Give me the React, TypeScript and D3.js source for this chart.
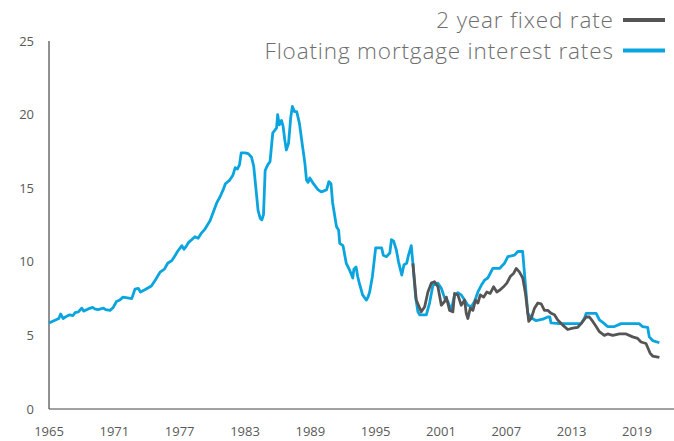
import React from "react";
import * as d3 from "d3";

const floatingRate: [number, number][] = [
  [1965.0, 5.85], [1965.3, 5.95], [1965.6, 6.05], [1965.9, 6.15], [1966.07, 6.45], [1966.3, 6.15],
  [1966.5, 6.25], [1966.9, 6.4], [1967.2, 6.35], [1967.4, 6.55], [1967.7, 6.6], [1968.0, 6.85],
  [1968.2, 6.65], [1968.6, 6.8], [1969.0, 6.9], [1969.2, 6.8], [1969.5, 6.75], [1970.0, 6.85],
  [1970.2, 6.75], [1970.6, 6.7], [1970.9, 6.9], [1971.2, 7.3], [1971.5, 7.4], [1971.8, 7.6],
  [1972.2, 7.55], [1972.6, 7.5], [1972.9, 8.15], [1973.2, 8.2], [1973.4, 7.95], [1973.8, 8.1],
  [1974.4, 8.35], [1974.8, 8.8], [1975.2, 9.3], [1975.6, 9.5], [1975.9, 9.9], [1976.3, 10.1],
  [1976.6, 10.45], [1976.8, 10.7], [1977.2, 11.1], [1977.4, 10.85], [1977.6, 11.05], [1977.8, 11.3],
  [1978.1, 11.5], [1978.4, 11.7], [1978.7, 11.6], [1979.0, 11.95], [1979.3, 12.2], [1979.8, 12.8],
  [1980.05, 13.3], [1980.4, 14.0], [1980.7, 14.4], [1981.0, 14.9], [1981.2, 15.3], [1981.6, 15.55],
  [1981.9, 15.9], [1982.1, 16.4], [1982.3, 16.3], [1982.5, 16.6], [1982.65, 17.4], [1983.0, 17.4],
  [1983.3, 17.35], [1983.6, 17.1], [1983.8, 16.5], [1984.0, 15.0], [1984.2, 13.5], [1984.4, 12.95],
  [1984.55, 12.85], [1984.7, 13.2], [1984.85, 16.2], [1985.1, 16.6], [1985.3, 16.8], [1985.55, 18.75],
  [1985.8, 19.0], [1985.9, 19.1], [1986.0, 20.0], [1986.15, 19.3], [1986.35, 19.6], [1986.5, 19.2],
  [1986.65, 18.3], [1986.8, 17.6], [1987.0, 18.05], [1987.2, 19.8], [1987.35, 20.55], [1987.55, 20.2],
  [1987.75, 20.2], [1988.0, 19.4], [1988.2, 18.3], [1988.5, 16.7], [1988.65, 15.55], [1988.8, 15.4],
  [1988.95, 15.7], [1989.2, 15.4], [1989.7, 14.9], [1990.0, 14.75], [1990.2, 14.8], [1990.5, 14.9],
  [1990.7, 15.45], [1990.9, 15.3], [1991.05, 14.0], [1991.4, 12.4], [1991.6, 12.15], [1991.7, 11.25],
  [1992.0, 11.1], [1992.3, 9.9], [1992.6, 9.45], [1992.9, 8.9], [1993.0, 9.5], [1993.2, 9.65],
  [1993.35, 9.0], [1993.5, 8.55], [1993.8, 7.75], [1994.15, 7.4], [1994.3, 7.6], [1994.45, 7.95],
  [1994.7, 9.0], [1995.0, 10.95], [1995.55, 10.95], [1995.7, 10.45], [1996.0, 10.35], [1996.3, 10.6],
  [1996.45, 11.5], [1996.65, 11.4], [1996.9, 10.8], [1997.1, 10.0], [1997.4, 9.1], [1997.6, 9.8],
  [1997.85, 9.9], [1998.0, 10.4], [1998.27, 11.1], [1998.42, 9.9], [1998.67, 7.6], [1998.88, 6.6],
  [1999.04, 6.4], [1999.65, 6.4], [1999.95, 7.2], [2000.26, 8.4], [2000.72, 8.55], [2001.03, 8.2],
  [2001.33, 7.55], [2001.63, 7.3], [2001.94, 6.7], [2002.25, 7.75], [2002.55, 7.9], [2002.86, 7.75],
  [2003.17, 7.4], [2003.47, 7.05], [2003.78, 6.95], [2004.08, 7.3], [2004.39, 7.95], [2004.7, 8.4],
  [2005.0, 8.75], [2005.3, 8.9], [2005.76, 9.55], [2006.38, 9.55], [2006.83, 9.9], [2007.14, 10.35],
  [2007.75, 10.45], [2008.06, 10.7], [2008.5, 10.7], [2008.67, 9.2], [2008.97, 6.5], [2009.28, 6.2],
  [2009.74, 6.0], [2010.35, 6.1], [2010.8, 6.25], [2011.0, 6.25], [2011.1, 5.85], [2011.88, 5.8],
  [2012.8, 5.8], [2013.87, 5.8], [2014.2, 6.2], [2014.33, 6.5], [2015.25, 6.5], [2015.55, 6.05],
  [2016.0, 5.8], [2016.3, 5.6], [2016.93, 5.6], [2017.39, 5.75], [2017.54, 5.8], [2019.2, 5.8],
  [2019.5, 5.6], [2019.98, 5.55], [2020.13, 4.9], [2020.44, 4.65], [2021.06, 4.5],
];

const fixedRate: [number, number][] = [
  [1998.42, 9.9], [1998.73, 7.4], [1999.19, 6.6], [1999.5, 6.95], [1999.8, 7.95], [2000.11, 8.55],
  [2000.41, 8.65], [2000.72, 8.3], [2001.03, 7.05], [2001.33, 7.3], [2001.49, 7.6], [2001.79, 6.7],
  [2002.09, 6.6], [2002.25, 7.85], [2002.55, 7.75], [2002.86, 7.05], [2003.17, 7.4], [2003.32, 6.5],
  [2003.47, 6.15], [2003.69, 6.85], [2003.93, 6.7], [2004.17, 7.4], [2004.39, 7.2], [2004.61, 7.75],
  [2004.91, 7.6], [2005.21, 7.95], [2005.52, 7.85], [2005.83, 8.3], [2006.13, 7.95], [2006.44, 8.1],
  [2006.74, 8.3], [2007.05, 8.55], [2007.36, 9.0], [2007.66, 9.2], [2007.91, 9.55], [2008.21, 9.3],
  [2008.51, 8.9], [2008.76, 7.85], [2009.06, 5.95], [2009.28, 6.15], [2009.59, 6.85], [2009.89, 7.2],
  [2010.2, 7.15], [2010.5, 6.7], [2010.81, 6.7], [2011.12, 6.5], [2011.42, 6.4], [2011.72, 6.05],
  [2012.18, 5.7], [2012.64, 5.4], [2013.1, 5.5], [2013.56, 5.55], [2013.87, 5.8], [2014.33, 6.25],
  [2014.63, 6.25], [2014.94, 5.95], [2015.25, 5.6], [2015.55, 5.25], [2016.0, 5.0], [2016.31, 5.1],
  [2016.77, 5.0], [2017.39, 5.1], [2018.0, 5.1], [2018.6, 4.9], [2019.06, 4.8], [2019.37, 4.55],
  [2019.83, 4.45], [2020.2, 3.8], [2020.44, 3.6], [2021.06, 3.5],
];

const xTicks = [1965, 1971, 1977, 1983, 1989, 1995, 2001, 2007, 2013, 2019];
const yTicks = [0, 5, 10, 15, 20, 25];
const legendLabels = ["2 year fixed rate", "Floating mortgage interest rates"];
const seriesColors = ["#555555", "#0aa5df"];

const W = 674;
const H = 441;

export default function App() {
  const x = d3.scaleLinear().domain([1965, 2022.4]).range([49, 674]);
  const y = d3.scaleLinear().domain([0, 25]).range([409, 41]);
  const line = d3
    .line<[number, number]>()
    .x((d) => x(d[0]))
    .y((d) => y(d[1]))
    .curve(d3.curveLinear);

  const tickFont = "'Open Sans', 'Noto Sans', sans-serif";

  return (
    <svg
      width={W}
      height={H}
      style={{ position: "absolute", left: 0, top: 0, background: "#fff" }}
    >
      <rect x={0} y={0} width={W} height={H} fill="#fff" />
      {/* axes */}
      <line x1={x(1965)} x2={x(1965)} y1={y(25)} y2={y(0)} stroke="#222" strokeWidth={1} />
      <line x1={x(1965)} x2={674} y1={y(0)} y2={y(0)} stroke="#444" strokeWidth={1} />
      {yTicks.map((t) => (
        <text
          key={t}
          x={34}
          y={y(t)}
          dy="0.36em"
          textAnchor="end"
          fontFamily={tickFont}
          fontSize={13}
          fill="#595959"
        >
          {t}
        </text>
      ))}
      {xTicks.map((t) => (
        <text
          key={t}
          x={x(t)}
          y={436}
          textAnchor="middle"
          fontFamily={tickFont}
          fontSize={13}
          fill="#595959"
        >
          {t}
        </text>
      ))}
      {/* series */}
      <path d={line(floatingRate) || ""} fill="none" stroke={seriesColors[1]} strokeWidth={2.8} strokeLinejoin="round" />
      <path d={line(fixedRate) || ""} fill="none" stroke={seriesColors[0]} strokeWidth={2.8} strokeLinejoin="round" />
      {/* legend */}
      {legendLabels.map((lab, i) => (
        <g key={lab}>
          <text
            x={613.8}
            y={28 + i * 30.5}
            textAnchor="end"
            fontFamily={tickFont}
            fontWeight={300}
            fontSize={22.5}
            letterSpacing={0.85}
            fill="#6e6e6e"
          >
            {lab}
          </text>
          <line
            x1={623}
            x2={665}
            y1={20 + i * 30.5}
            y2={20 + i * 30.5}
            stroke={seriesColors[i]}
            strokeWidth={4}
          />
        </g>
      ))}
    </svg>
  );
}
